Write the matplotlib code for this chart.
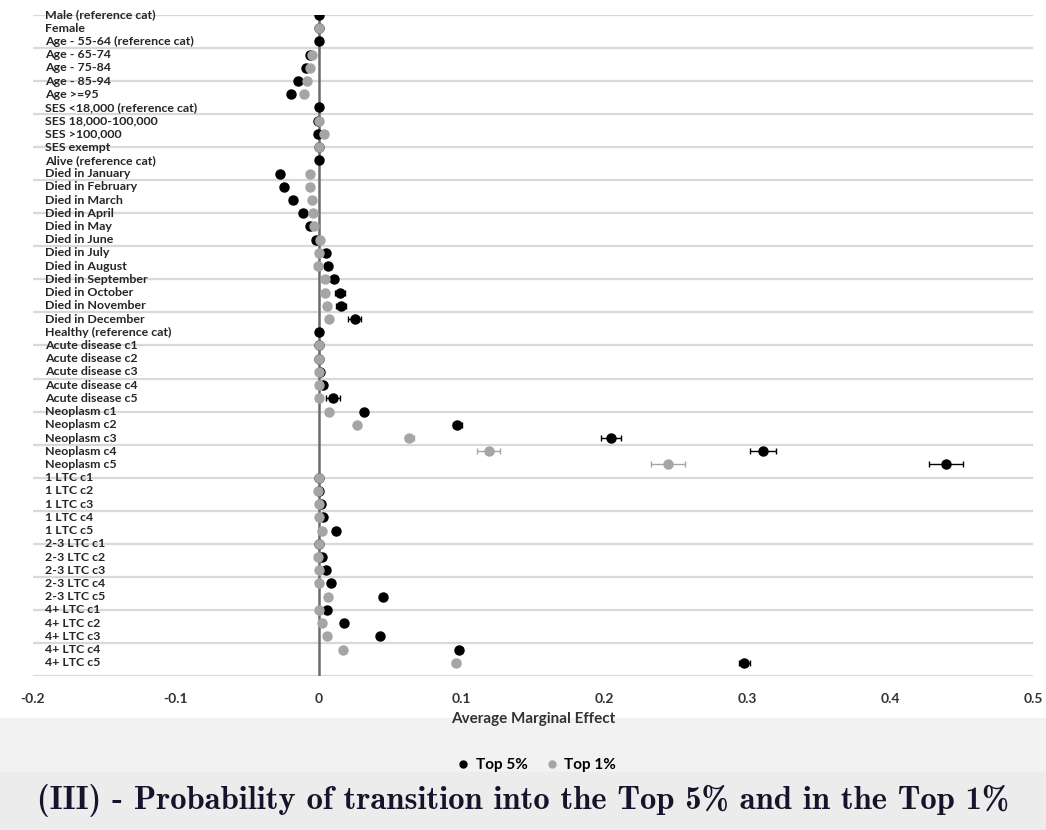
import numpy as np
import matplotlib
matplotlib.use("Agg")
import matplotlib.pyplot as plt
from matplotlib.patches import Rectangle
from matplotlib.lines import Line2D

# categories, top to bottom
labels = [
    "Male (reference cat)", "Female", "Age - 55-64 (reference cat)", "Age - 65-74",
    "Age - 75-84", "Age - 85-94", "Age >=95", "SES <18,000 (reference cat)",
    "SES 18,000-100,000", "SES >100,000", "SES exempt", "Alive (reference cat)",
    "Died in January", "Died in February", "Died in March", "Died in April",
    "Died in May", "Died in June", "Died in July", "Died in August",
    "Died in September", "Died in October", "Died in November", "Died in December",
    "Healthy (reference cat)", "Acute disease c1", "Acute disease c2", "Acute disease c3",
    "Acute disease c4", "Acute disease c5", "Neoplasm c1", "Neoplasm c2",
    "Neoplasm c3", "Neoplasm c4", "Neoplasm c5", "1 LTC c1", "1 LTC c2", "1 LTC c3",
    "1 LTC c4", "1 LTC c5", "2-3 LTC c1", "2-3 LTC c2", "2-3 LTC c3", "2-3 LTC c4",
    "2-3 LTC c5", "4+ LTC c1", "4+ LTC c2", "4+ LTC c3", "4+ LTC c4", "4+ LTC c5",
]

# average marginal effects, Top 5%
top5 = [
    0.0, 0.0, 0.0, -0.006, -0.009, -0.0145, -0.0196, 0.0,
    -0.0008, -0.0007, 0.0, 0.0,
    -0.0272, -0.0240, -0.0180, -0.0113, -0.0060, -0.0022, 0.0048, 0.0062,
    0.0105, 0.0146, 0.0158, 0.0252,
    0.0, 0.0, 0.0, 0.0008, 0.0028, 0.0102,
    0.032, 0.097, 0.2044, 0.311, 0.439,
    0.0, 0.0, 0.0015, 0.0033, 0.0121,
    0.0, 0.002, 0.0049, 0.0086, 0.0452,
    0.0056, 0.018, 0.0429, 0.0985, 0.298,
]
top5_err = [
    0.001, 0.001, 0.001, 0.001, 0.001, 0.001, 0.001, 0.001,
    0.001, 0.002, 0.001, 0.001,
    0.001, 0.001, 0.001, 0.002, 0.0015, 0.002, 0.0015, 0.0015,
    0.002, 0.0035, 0.0035, 0.0045,
    0.001, 0.001, 0.001, 0.001, 0.001, 0.005,
    0.0015, 0.003, 0.007, 0.009, 0.012,
    0.001, 0.001, 0.001, 0.001, 0.001,
    0.001, 0.001, 0.001, 0.001, 0.001,
    0.001, 0.001, 0.001, 0.002, 0.004,
]

# average marginal effects, Top 1% (no point for reference categories)
nan = np.nan
top1 = [
    nan, 0.0, nan, -0.0045, -0.0063, -0.0084, -0.0103, nan,
    0.0, 0.0035, 0.0004, nan,
    -0.006, -0.0058, -0.0047, -0.0043, -0.0032, 0.001, 0.0004, -0.0005,
    0.0044, 0.0042, 0.0056, 0.0073,
    nan, 0.0, 0.0, 0.0004, 0.0, 0.0005,
    0.0072, 0.0266, 0.0634, 0.119, 0.2447,
    0.0, -0.0003, 0.0005, 0.0, 0.002,
    0.0, -0.0003, 0.0, 0.0005, 0.0068,
    0.0, 0.0026, 0.0056, 0.0168, 0.096,
]
top1_err = [
    0.001, 0.001, 0.001, 0.001, 0.001, 0.001, 0.001, 0.001,
    0.001, 0.001, 0.001, 0.001,
    0.001, 0.001, 0.001, 0.001, 0.001, 0.001, 0.001, 0.001,
    0.001, 0.001, 0.001, 0.001,
    0.001, 0.001, 0.001, 0.001, 0.001, 0.001,
    0.001, 0.002, 0.003, 0.008, 0.012,
    0.001, 0.001, 0.001, 0.001, 0.001,
    0.001, 0.001, 0.001, 0.001, 0.001,
    0.001, 0.001, 0.001, 0.001, 0.003,
]

FONT = ["Lato", "DejaVu Sans"]
GREY = "#a5a5a5"

fig = plt.figure(figsize=(10.46, 8.30), dpi=100)
# light grey band at the bottom of the picture
fig.patches.append(Rectangle((0, 0), 1, 0.135, transform=fig.transFigure,
                             color="#f2f2f2", zorder=-2))
fig.patches.append(Rectangle((0, 0), 1, 0.07, transform=fig.transFigure,
                             color="#ececec", zorder=-1))

ax = fig.add_axes([0.0316, 0.1855, 0.956, 0.7965])
ax.set_xlim(-0.2, 0.5)
ax.set_ylim(0, 50)

n = len(labels)
y = np.arange(n, 0, -1)

ax.set_yticks(np.arange(0, 50.01, 2.5))
ax.yaxis.grid(True, color="#d9d9d9", linewidth=1.6)
ax.set_axisbelow(True)
ax.tick_params(axis="y", left=False, labelleft=False)
ax.tick_params(axis="x", bottom=False, pad=9)
for s in ax.spines.values():
    s.set_visible(False)

ax.set_xticks([-0.2, -0.1, 0, 0.1, 0.2, 0.3, 0.4, 0.5])
ax.set_xticklabels(["-0.2", "-0.1", "0", "0.1", "0.2", "0.3", "0.4", "0.5"],
                   family=FONT, fontweight="bold", fontsize=10, color="#333333")

for yi, lab in zip(y, labels):
    ax.text(-0.1916, yi, lab, ha="left", va="center", family=FONT,
            fontweight="bold", fontsize=8.9, color="#262626", zorder=1)

ax.axvline(0, color="#6b6b6b", linewidth=1.8, zorder=2)

ax.errorbar(top5, y, xerr=top5_err, fmt="o", color="black", ms=6.5,
            elinewidth=1.0, capsize=2.5, capthick=1.0, zorder=3)
ax.errorbar(top1, y, xerr=top1_err, fmt="o", color=GREY, ms=6.5,
            elinewidth=1.0, capsize=2.5, capthick=1.0, zorder=4)

ax.set_xlabel("Average Marginal Effect", family=FONT, fontweight="bold",
              fontsize=11, color="#333333", labelpad=5)

handles = [
    Line2D([], [], marker="o", color="black", linestyle="none", ms=5),
    Line2D([], [], marker="o", color=GREY, linestyle="none", ms=5),
]
fig.legend(handles, ["Top 5%", "Top 1%"], loc="center", bbox_to_anchor=(0.513, 0.078),
           ncol=2, frameon=False, handlelength=0.8, handletextpad=0.4,
           columnspacing=1.2, prop={"family": FONT, "weight": "bold", "size": 11})

fig.text(0.5, 0.036, "(III) - Probability of transition into the Top 5% and in the Top 1%",
         ha="center", va="center", family="cmb10", fontsize=23.5, color="#14142a")

fig.savefig("out.png", dpi=100)
